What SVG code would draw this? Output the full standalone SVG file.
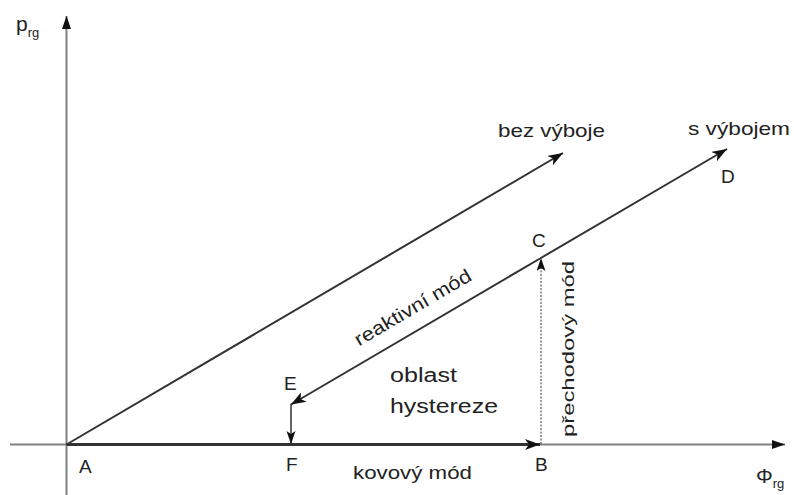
<svg xmlns="http://www.w3.org/2000/svg" width="794" height="495" viewBox="0 0 794 495">
  <style>
    text { font-family: "Liberation Sans", Arial, sans-serif; fill: #222; }
    .pt { font-size: 19px; }
    .lbl { font-size: 19px; }
    .axis { stroke: #808080; stroke-width: 2; fill: none; }
    .main { stroke: #333; stroke-width: 2; fill: none; }
    .thick { stroke: #333; stroke-width: 3; fill: none; }
    .dot { stroke: #333; stroke-width: 1; stroke-dasharray: 2 1.5; fill: none; }
  </style>
  <defs>
    <marker id="arr" markerUnits="userSpaceOnUse" markerWidth="16" markerHeight="11" refX="15" refY="5.5" orient="auto">
      <path d="M0,0 L15,5.5 L0,11 L4,5.5 z" fill="#111"/>
    </marker>
    <marker id="arrAx" markerUnits="userSpaceOnUse" markerWidth="14" markerHeight="10" refX="13" refY="5" orient="auto">
      <path d="M0,0.5 L13,5 L0,9.5 z" fill="#111"/>
    </marker>
    <marker id="arrS" markerUnits="userSpaceOnUse" markerWidth="14" markerHeight="10" refX="13" refY="4.5" orient="auto">
      <path d="M0,0 L13,4.5 L0,9 L3,4.5 z" fill="#111"/>
    </marker>
  </defs>

  <g id="axes">
    <line class="axis" x1="66.5" y1="495" x2="66.5" y2="16" marker-end="url(#arrAx)"/>
    <line class="axis" x1="10" y1="444.5" x2="785" y2="444.5" marker-end="url(#arrAx)"/>
    <text x="16" y="31" style="font-size:21px">p<tspan dy="6" style="font-size:13px">rg</tspan></text>
    <text x="756" y="483" style="font-size:21px">Φ<tspan dy="5" style="font-size:13px">rg</tspan></text>
  </g>

  <g id="connectors">
    <line class="main" x1="66.5" y1="444.5" x2="563" y2="153" marker-end="url(#arr)"/>
    <line class="thick" x1="66.5" y1="444.5" x2="540" y2="444.5" marker-end="url(#arr)"/>
    <line class="main" x1="540" y1="258.5" x2="727" y2="149" marker-end="url(#arr)"/>
    <line class="main" x1="540" y1="258.5" x2="291" y2="404.5" marker-end="url(#arr)"/>
    <line class="dot" x1="541" y1="444" x2="541" y2="258" marker-end="url(#arrS)"/>
    <line class="main" style="stroke-width:1.5" x1="291" y1="404" x2="291" y2="444" marker-end="url(#arrS)"/>
  </g>

  <g id="A"><text class="pt" x="79" y="473">A</text></g>
  <g id="B"><text class="pt" x="535" y="471">B</text></g>
  <g id="C"><text class="pt" x="532" y="247">C</text></g>
  <g id="D"><text class="pt" x="721" y="183">D</text></g>
  <g id="E"><text class="pt" x="284" y="390">E</text></g>
  <g id="F"><text class="pt" x="286" y="471">F</text></g>

  <g id="labels">
    <text class="lbl" x="498" y="137" textLength="107" lengthAdjust="spacingAndGlyphs">bez výboje</text>
    <text class="lbl" x="688" y="135" textLength="102" lengthAdjust="spacingAndGlyphs">s výbojem</text>
    <text class="lbl" style="font-size:20px" x="390" y="382" textLength="67" lengthAdjust="spacingAndGlyphs">oblast</text>
    <text class="lbl" style="font-size:20px" x="390" y="413" textLength="108" lengthAdjust="spacingAndGlyphs">hystereze</text>
    <text class="lbl" x="353" y="479" textLength="119" lengthAdjust="spacingAndGlyphs">kovový mód</text>
    <text class="lbl" style="font-size:19px" text-anchor="middle" transform="translate(416,313) rotate(-30.4)" textLength="132" lengthAdjust="spacingAndGlyphs">reaktivní mód</text>
    <text class="lbl" style="font-size:17px" text-anchor="middle" transform="translate(574,349) rotate(-90)" textLength="176" lengthAdjust="spacingAndGlyphs">přechodový mód</text>
  </g>
</svg>
